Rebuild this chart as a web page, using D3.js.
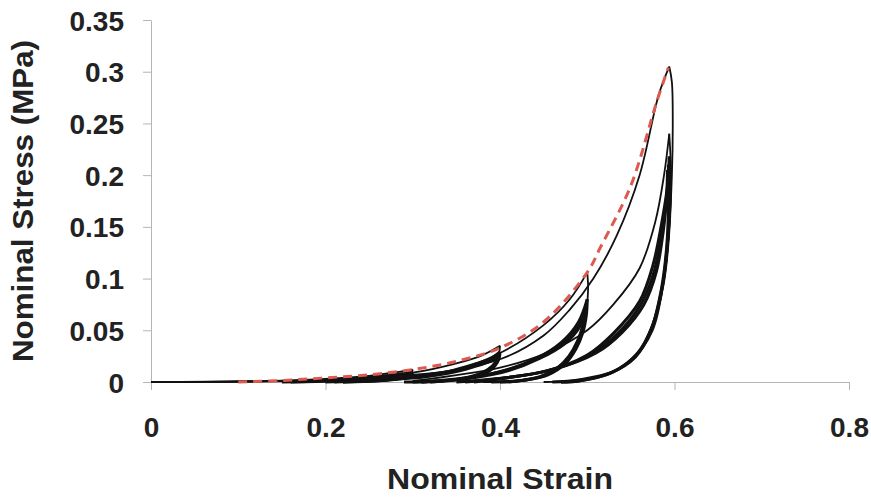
<!DOCTYPE html>
<html>
<head>
<meta charset="utf-8">
<script src="https://cdn.jsdelivr.net/npm/d3@7"></script>
<style>
  html, body { margin: 0; padding: 0; background: #ffffff; }
  svg { display: block; }
  text { font-family: "Liberation Sans", Arial, sans-serif; font-weight: bold; fill: #222; }
</style>
</head>
<body>
<svg id="chart" width="871" height="500"></svg>
<script>
// ---- axis ticks ----
const xTicks = [0, 0.2, 0.4, 0.6, 0.8];
const yTicks = [0, 0.05, 0.1, 0.15, 0.2, 0.25, 0.3, 0.35];
const xTitle = "Nominal Strain";
const yTitle = "Nominal Stress (MPa)";

// ---- red dashed envelope (strain, stress) ----
const envelope = [[0.10,0.000],[0.15,0.0015],[0.20,0.004],[0.25,0.007],[0.30,0.012],[0.35,0.020],[0.40,0.033],[0.45,0.058],[0.50,0.106],[0.515,0.130],[0.55,0.190],[0.58,0.272],[0.593,0.304]];

// ---- first (virgin) loading cycles: strain, stress ----
const load03a   = [[0,0],[0.1,0.0003],[0.2,0.003],[0.25,0.006],[0.3,0.012]];
const unload03a = [[0.3,0.012],[0.298,0.008],[0.29,0.004],[0.27,0.0015],[0.24,0.0003],[0.2,0]];
const load04a   = [[0,0],[0.1,0.0003],[0.2,0.002],[0.3,0.009],[0.35,0.018],[0.38,0.026],[0.4,0.035]];
const unload04a = [[0.4,0.035],[0.399,0.028],[0.395,0.02],[0.385,0.012],[0.37,0.006],[0.34,0.002],[0.3,0]];
const load05a   = [[0,0],[0.2,0.002],[0.3,0.007],[0.35,0.012],[0.4,0.028],[0.45,0.055],[0.48,0.08],[0.5,0.106]];
const unload05a = [[0.5,0.106],[0.501,0.09],[0.499,0.07],[0.494,0.05],[0.485,0.03],[0.47,0.015],[0.45,0.006],[0.42,0.001],[0.38,0]];
const load06a   = [[0,0],[0.2,0.002],[0.3,0.006],[0.4,0.022],[0.45,0.045],[0.48,0.07],[0.507,0.1],[0.534,0.142],[0.56,0.2],[0.582,0.278],[0.594,0.305]];
const unload06a = [[0.594,0.305],[0.597,0.29],[0.598,0.25],[0.597,0.2],[0.594,0.15],[0.588,0.1],[0.575,0.05],[0.55,0.02],[0.52,0.007],[0.48,0.001],[0.45,0]];
const load06b   = [[0.3,0.001],[0.4,0.014],[0.45,0.027],[0.5,0.05],[0.53,0.075],[0.56,0.11],[0.578,0.155],[0.588,0.2],[0.594,0.24]];
const unload06b = [[0.594,0.24],[0.596,0.2],[0.594,0.15],[0.588,0.1],[0.577,0.06],[0.56,0.03],[0.535,0.012],[0.5,0.003],[0.46,0]];

// ---- repeated (softened) cycles ----
const load03b   = [[0.15,0],[0.2,0.001],[0.25,0.004],[0.28,0.007],[0.3,0.0095]];
const unload03b = [[0.3,0.0095],[0.297,0.006],[0.285,0.003],[0.26,0.001],[0.22,0]];
const load03c   = [[0.16,0],[0.21,0.0012],[0.255,0.0042],[0.282,0.0068],[0.3,0.009]];
const load04b   = [[0.2,0],[0.25,0.002],[0.3,0.005],[0.34,0.01],[0.37,0.017],[0.39,0.023],[0.4,0.029]];
const unload04b = [[0.4,0.029],[0.398,0.022],[0.392,0.015],[0.38,0.009],[0.36,0.004],[0.33,0.001],[0.29,0]];
const load04c   = [[0.21,0],[0.26,0.002],[0.31,0.0055],[0.345,0.0105],[0.372,0.0165],[0.39,0.022],[0.4,0.027]];
const unload04c = [[0.4,0.027],[0.397,0.019],[0.39,0.012],[0.375,0.006],[0.35,0.002],[0.31,0]];
const load04d   = [[0.22,0],[0.27,0.002],[0.315,0.005],[0.35,0.01],[0.375,0.016],[0.392,0.021],[0.399,0.025]];
const load05b   = [[0.3,0],[0.35,0.003],[0.4,0.01],[0.44,0.022],[0.47,0.038],[0.49,0.058],[0.5,0.08]];
const unload05b = [[0.5,0.08],[0.499,0.065],[0.495,0.048],[0.487,0.032],[0.475,0.018],[0.455,0.007],[0.43,0.002],[0.39,0]];
const load05c   = [[0.31,0],[0.36,0.0035],[0.405,0.011],[0.443,0.023],[0.472,0.038],[0.49,0.055],[0.499,0.075]];
const unload05c = [[0.499,0.075],[0.497,0.06],[0.492,0.044],[0.483,0.028],[0.47,0.016],[0.45,0.006],[0.42,0.001],[0.4,0]];
const load05d   = [[0.32,0],[0.37,0.004],[0.41,0.011],[0.446,0.023],[0.474,0.037],[0.491,0.053],[0.498,0.07]];
const unload05d = [[0.498,0.07],[0.495,0.055],[0.489,0.04],[0.479,0.025],[0.465,0.013],[0.445,0.005],[0.41,0]];
const load06c   = [[0.35,0],[0.45,0.01],[0.5,0.026],[0.53,0.047],[0.56,0.078],[0.575,0.112],[0.585,0.152],[0.592,0.19],[0.594,0.218]];
const unload06c = [[0.594,0.218],[0.595,0.18],[0.593,0.14],[0.587,0.095],[0.575,0.055],[0.558,0.028],[0.53,0.01],[0.49,0.002],[0.46,0]];
const load06d   = [[0.36,0],[0.455,0.011],[0.505,0.027],[0.535,0.047],[0.562,0.076],[0.577,0.108],[0.586,0.148],[0.592,0.185],[0.593,0.21]];
const unload06d = [[0.593,0.21],[0.594,0.175],[0.592,0.135],[0.586,0.092],[0.574,0.052],[0.556,0.026],[0.528,0.009],[0.49,0.001],[0.47,0]];
const load06e   = [[0.37,0],[0.46,0.012],[0.51,0.028],[0.54,0.048],[0.565,0.075],[0.579,0.106],[0.587,0.145],[0.591,0.18],[0.592,0.205]];
const unload06e = [[0.592,0.205],[0.593,0.17],[0.591,0.13],[0.585,0.09],[0.573,0.05],[0.555,0.024],[0.525,0.008],[0.49,0.001],[0.47,0]];

const virginCurves = [load03a, unload03a, load04a, unload04a, load05a, unload05a, load06a, unload06a, load06b, unload06b];
const repeatCurves = [load03b, unload03b, load03c, load04b, unload04b, load04c, unload04c, load04d,
                      load05b, unload05b, load05c, unload05c, load05d, unload05d,
                      load06c, unload06c, load06d, unload06d, load06e, unload06e];

// ---- drawing ----
const svg = d3.select("#chart");
const x = d3.scaleLinear().domain([0, 0.8]).range([151, 849]);
const y = d3.scaleLinear().domain([0, 0.35]).range([382, 20]);

const axisColor = "#b5b5b5";
const fontFam = '"Liberation Sans", Arial, sans-serif';

const gx = svg.append("g").attr("transform", `translate(0,${y(0)})`)
  .call(d3.axisBottom(x).tickValues(xTicks).tickSize(8).tickSizeOuter(0).tickFormat(d => d3.format("")(d)));
gx.select(".domain").attr("stroke", axisColor);
gx.selectAll(".tick line").attr("stroke", axisColor);
gx.selectAll(".tick text").attr("y", 55).attr("dy", 0)
  .style("font-size", "28px").style("font-family", fontFam).style("font-weight", "bold").attr("fill", "#222");

const gy = svg.append("g").attr("transform", `translate(${x(0)},0)`)
  .call(d3.axisLeft(y).tickValues(yTicks).tickSize(8).tickSizeOuter(0).tickFormat(d => d3.format("")(d)));
gy.select(".domain").attr("stroke", axisColor);
gy.selectAll(".tick line").attr("stroke", axisColor);
gy.selectAll(".tick text").attr("x", -27).attr("dy", "0.36em")
  .style("font-size", "28px").style("font-family", fontFam).style("font-weight", "bold").attr("fill", "#222");

const lineFree = d3.line().x(d => x(d[0])).y(d => y(d[1])).curve(d3.curveCatmullRom.alpha(0.5));

svg.append("g").selectAll("path").data(repeatCurves).join("path")
  .attr("d", d => lineFree(d))
  .attr("fill", "none")
  .attr("stroke", "#111")
  .attr("stroke-width", 3)
  .attr("stroke-linejoin", "round");

svg.append("g").selectAll("path").data(virginCurves).join("path")
  .attr("d", d => lineFree(d))
  .attr("fill", "none")
  .attr("stroke", "#111")
  .attr("stroke-width", 1.8)
  .attr("stroke-linejoin", "round");

svg.append("path")
  .attr("d", lineFree(envelope))
  .attr("fill", "none")
  .attr("stroke", "#dc5a50")
  .attr("stroke-width", 3)
  .attr("stroke-dasharray", "9,6");

svg.append("text")
  .attr("x", 500).attr("y", 489)
  .attr("text-anchor", "middle")
  .attr("textLength", 226).attr("lengthAdjust", "spacingAndGlyphs")
  .style("font-size", "29px")
  .text(xTitle);

svg.append("text")
  .attr("transform", "translate(33,201) rotate(-90)")
  .attr("text-anchor", "middle")
  .attr("textLength", 322).attr("lengthAdjust", "spacingAndGlyphs")
  .style("font-size", "29px")
  .text(yTitle);
</script>
</body>
</html>
